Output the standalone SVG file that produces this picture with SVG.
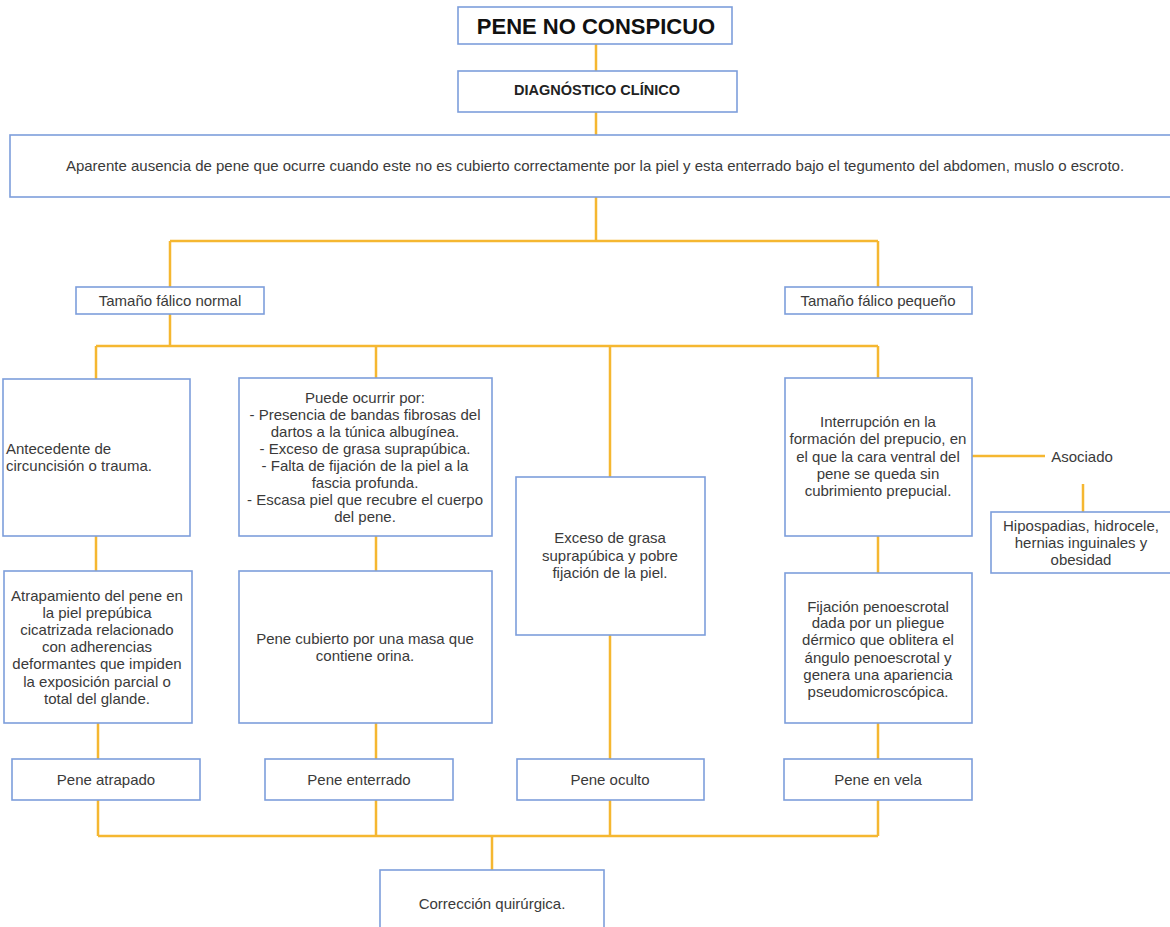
<svg xmlns="http://www.w3.org/2000/svg" width="1170" height="927" viewBox="0 0 1170 927">
<style>
.box{fill:#fff;stroke:#7d9edb;stroke-width:1.6}
.t{font-family:"Liberation Sans",Arial,sans-serif;font-size:15px;fill:#3a3a3a;text-anchor:middle;dominant-baseline:central}
.l{text-anchor:start}
.c{fill:none;stroke:#f5b731;stroke-width:2.5}
</style>
<rect width="1170" height="927" fill="#fff"/>
<g id="connectors">
<path class="c" d="M596 44V71M596 112V135M596 197V241M170 241H878M170 241V287M878 241V287"/>
<path class="c" d="M170 314V346M96 346H878M96 346V379M376 346V378M610 346V477M878 346V378"/>
<path class="c" d="M972 456H1045M1083 484V512"/>
<path class="c" d="M96 536V571M376 536V571M878 536V573M610 635V759"/>
<path class="c" d="M98 723V759M376 723V759M878 723V759"/>
<path class="c" d="M98 800V836M376 800V836M610 800V836M878 800V836M98 836H878M492 836V870"/>
</g>
<g id="n-title"><rect class="box" x="458" y="7" width="274" height="37"/><text class="t" x="596" y="26" style="font-size:22px;font-weight:bold;fill:#111">PENE NO CONSPICUO</text></g>
<g id="n-diag"><rect class="box" x="458" y="71" width="279" height="41"/><text class="t" x="597" y="90" style="font-weight:bold;fill:#222;font-size:14.5px">DIAGNÓSTICO CLÍNICO</text></g>
<g id="n-def"><rect class="box" x="10" y="135" width="1165" height="62"/><text class="t" x="595" y="165">Aparente ausencia de pene que ocurre cuando este no es cubierto correctamente por la piel y esta enterrado bajo el tegumento del abdomen, muslo o escroto.</text></g>
<g id="n-normal"><rect class="box" x="76" y="287" width="188" height="27"/><text class="t" x="170" y="300">Tamaño fálico normal</text></g>
<g id="n-pequeno"><rect class="box" x="785" y="287" width="187" height="27"/><text class="t" x="878" y="300">Tamaño fálico pequeño</text></g>
<g id="n-antecedente"><rect class="box" x="3" y="379" width="187" height="157"/><text class="t l" x="6" y="448">Antecedente de</text><text class="t l" x="6" y="465">circuncisión o trauma.</text></g>
<g id="n-puede"><rect class="box" x="239" y="378" width="253" height="158"/>
<text class="t" x="365" y="397">Puede ocurrir por:</text>
<text class="t" x="365" y="414">- Presencia de bandas fibrosas del</text>
<text class="t" x="365" y="431">dartos a la túnica albugínea.</text>
<text class="t" x="365" y="448">- Exceso de grasa suprapúbica.</text>
<text class="t" x="365" y="465">- Falta de fijación de la piel a la</text>
<text class="t" x="365" y="482">fascia profunda.</text>
<text class="t" x="365" y="499">- Escasa piel que recubre el cuerpo</text>
<text class="t" x="365" y="516">del pene.</text></g>
<g id="n-exceso"><rect class="box" x="516" y="477" width="189" height="158"/>
<text class="t" x="610" y="537">Exceso de grasa</text>
<text class="t" x="610" y="555">suprapúbica y pobre</text>
<text class="t" x="610" y="572">fijación de la piel.</text></g>
<g id="n-interrupcion"><rect class="box" x="785" y="378" width="187" height="158"/>
<text class="t" x="878" y="421">Interrupción en la</text>
<text class="t" x="878" y="438">formación del prepucio, en</text>
<text class="t" x="878" y="456">el que la cara ventral del</text>
<text class="t" x="878" y="473">pene se queda sin</text>
<text class="t" x="878" y="490">cubrimiento prepucial.</text></g>
<g id="n-asociado"><text class="t" x="1082" y="456">Asociado</text></g>
<g id="n-hipospadias"><rect class="box" x="991" y="512" width="184" height="61"/>
<text class="t" x="1081" y="525">Hipospadias, hidrocele,</text>
<text class="t" x="1081" y="542">hernias inguinales y</text>
<text class="t" x="1081" y="559">obesidad</text></g>
<g id="n-atrapamiento"><rect class="box" x="4" y="571" width="188" height="152"/>
<text class="t" x="97" y="595">Atrapamiento del pene en</text>
<text class="t" x="97" y="612">la piel prepúbica</text>
<text class="t" x="97" y="629">cicatrizada relacionado</text>
<text class="t" x="97" y="646">con adherencias</text>
<text class="t" x="97" y="663">deformantes que impiden</text>
<text class="t" x="97" y="681">la exposición parcial o</text>
<text class="t" x="97" y="698">total del glande.</text></g>
<g id="n-cubierto"><rect class="box" x="239" y="571" width="253" height="152"/>
<text class="t" x="365" y="638">Pene cubierto por una masa que</text>
<text class="t" x="365" y="655">contiene orina.</text></g>
<g id="n-fijacion"><rect class="box" x="785" y="573" width="187" height="150"/>
<text class="t" x="878" y="606">Fijación penoescrotal</text>
<text class="t" x="878" y="622">dada por un pliegue</text>
<text class="t" x="878" y="639">dérmico que oblitera el</text>
<text class="t" x="878" y="657">ángulo penoescrotal y</text>
<text class="t" x="878" y="674">genera una apariencia</text>
<text class="t" x="878" y="691">pseudomicroscópica.</text></g>
<g id="n-atrapado"><rect class="box" x="12" y="759" width="188" height="41"/><text class="t" x="106" y="779">Pene atrapado</text></g>
<g id="n-enterrado"><rect class="box" x="265" y="759" width="188" height="41"/><text class="t" x="359" y="779">Pene enterrado</text></g>
<g id="n-oculto"><rect class="box" x="517" y="759" width="187" height="41"/><text class="t" x="610" y="779">Pene oculto</text></g>
<g id="n-vela"><rect class="box" x="784" y="759" width="188" height="41"/><text class="t" x="878" y="779">Pene en vela</text></g>
<g id="n-correccion"><rect class="box" x="380" y="870" width="224" height="70"/><text class="t" x="492" y="903">Corrección quirúrgica.</text></g>
</svg>
